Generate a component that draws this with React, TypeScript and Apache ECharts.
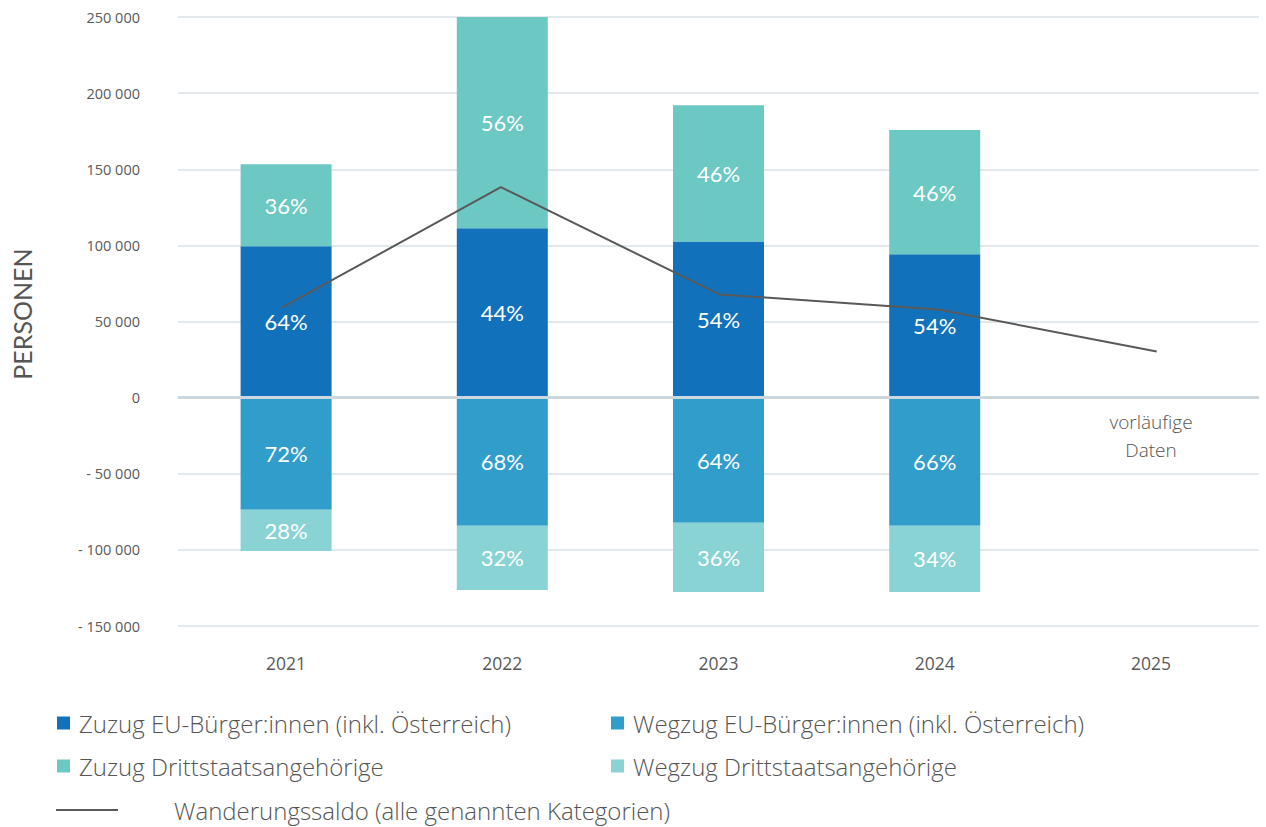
import React, { useEffect, useRef } from "react";
import * as echarts from "echarts";

const years = ["2021", "2022", "2023", "2024", "2025"];
const zuzugEU = [99400, 111200, 102600, 94100, null];
const zuzugDritt = [53900, 138800, 89500, 81600, null];
const wegzugEU = [-73700, -84200, -82200, -84200, null];
const wegzugDritt = [-27000, -42100, -45400, -43400, null];
const saldo = [59200, 138200, 67800, 57900, 30300];

const pctZuzugEU = ["64%", "44%", "54%", "54%", ""];
const pctZuzugDritt = ["36%", "56%", "46%", "46%", ""];
const pctWegzugEU = ["72%", "68%", "64%", "66%", ""];
const pctWegzugDritt = ["28%", "32%", "36%", "34%", ""];

const names = {
  zEU: "Zuzug EU-Bürger:innen (inkl. Österreich)",
  wEU: "Wegzug EU-Bürger:innen (inkl. Österreich)",
  zD: "Zuzug Drittstaatsangehörige",
  wD: "Wegzug Drittstaatsangehörige",
  saldo: "Wanderungssaldo (alle genannten Kategorien)",
};

const FONT = "Lato";
const LFONT = "Open Sans";

export default function App() {
  const ref = useRef<HTMLDivElement>(null);
  useEffect(() => {
    document.body.style.margin = "0";
    const chart = echarts.init(ref.current!, undefined, { renderer: "svg" });
    const barLabel = (arr: string[]) => ({
      show: true,
      position: "inside",
      color: "#ffffff",
      fontFamily: FONT,
      fontSize: 22,
      formatter: (p: any) => arr[p.dataIndex],
    });
    const legendText = (pad: number) => ({
      fontFamily: LFONT,
      fontWeight: 300,
      fontSize: 24,
      color: "#555555",
      padding: [0, 0, 0, pad],
    });
    const legendBase = (name: string, left: number, top: number) => ({
      data: [name],
      left,
      top,
      itemWidth: 13,
      itemHeight: 13,
      icon: "rect",
      textStyle: legendText(4),
      selectedMode: false,
    });
    const yMin = -150000;
    const yMax = 250000;
    chart.setOption({
      animation: false,
      grid: [
        { left: 178, right: 7, top: 17, height: 609 },
        { left: 173, width: 1097, top: 17, height: 609 },
      ],
      legend: [
        legendBase(names.zEU, 52, 706),
        legendBase(names.wEU, 606, 706),
        legendBase(names.zD, 52, 749),
        legendBase(names.wD, 606, 749),
        {
          data: [{ name: names.saldo, icon: "rect", itemStyle: { color: "#595959" } }],
          left: 51,
          top: 793,
          itemWidth: 62,
          itemHeight: 2,
          textStyle: legendText(51),
          selectedMode: false,
        },
      ],
      xAxis: [
        {
          type: "category",
          data: years,
          gridIndex: 0,
          axisLine: { show: false },
          axisTick: { show: false },
          axisLabel: { color: "#595959", fontFamily: "Open Sans", fontSize: 17.5, margin: 28 },
        },
        {
          type: "category",
          data: years,
          gridIndex: 1,
          show: false,
        },
      ],
      yAxis: [
        {
          type: "value",
          gridIndex: 0,
          min: yMin,
          max: yMax,
          interval: 50000,
          axisLine: { show: false },
          axisTick: { show: false },
          splitLine: { lineStyle: { color: "#d9e0e6", width: 1.5 } },
          axisLabel: {
            color: "#595959",
            fontFamily: "Open Sans",
            fontSize: 14.5,
            margin: 38,
            formatter: (v: number) => {
              const s = Math.abs(v).toString().replace(/\B(?=(\d{3})+(?!\d))/g, " ");
              return v < 0 ? "- " + s : s;
            },
          },
        },
        {
          type: "value",
          gridIndex: 1,
          min: yMin,
          max: yMax,
          interval: 50000,
          show: false,
          splitLine: { show: false },
        },
      ],
      series: [
        {
          name: names.zEU,
          type: "bar",
          stack: "total",
          barWidth: 91,
          data: zuzugEU,
          itemStyle: { color: "#1172bb" },
          label: barLabel(pctZuzugEU),
        },
        {
          name: names.zD,
          type: "bar",
          stack: "total",
          barWidth: 91,
          data: zuzugDritt,
          itemStyle: { color: "#6cc8c2" },
          label: barLabel(pctZuzugDritt),
        },
        {
          name: names.wEU,
          type: "bar",
          stack: "total",
          barWidth: 91,
          data: wegzugEU,
          itemStyle: { color: "#309dcb" },
          label: barLabel(pctWegzugEU),
        },
        {
          name: names.wD,
          type: "bar",
          stack: "total",
          barWidth: 91,
          data: wegzugDritt,
          itemStyle: { color: "#8ad3d4" },
          label: barLabel(pctWegzugDritt),
          markLine: {
            silent: true,
            symbol: "none",
            label: { show: false },
            lineStyle: { color: "#cdd7df", width: 3, type: "solid" },
            data: [{ yAxis: 0 }],
          },
        },
        {
          name: names.saldo,
          type: "line",
          xAxisIndex: 1,
          yAxisIndex: 1,
          data: saldo,
          symbol: "none",
          lineStyle: { color: "#595959", width: 2 },
          itemStyle: { color: "#595959" },
          z: 5,
        },
      ],
      graphic: [
        {
          type: "text",
          x: 22,
          y: 314,
          rotation: Math.PI / 2,
          style: {
            text: "PERSONEN",
            fill: "#555555",
            font: `25px ${FONT}`,
            textAlign: "center",
            textVerticalAlign: "middle",
          },
        },
        {
          type: "text",
          x: 1151,
          y: 422,
          style: {
            text: "vorläufige",
            fill: "#555555",
            font: `300 19px ${LFONT}`,
            textAlign: "center",
            textVerticalAlign: "middle",
          },
        },
        {
          type: "text",
          x: 1151,
          y: 450,
          style: {
            text: "Daten",
            fill: "#555555",
            font: `300 19px ${LFONT}`,
            textAlign: "center",
            textVerticalAlign: "middle",
          },
        },
      ],
    });
    return () => chart.dispose();
  }, []);
  return <div ref={ref} style={{ width: 1266, height: 827 }} />;
}
